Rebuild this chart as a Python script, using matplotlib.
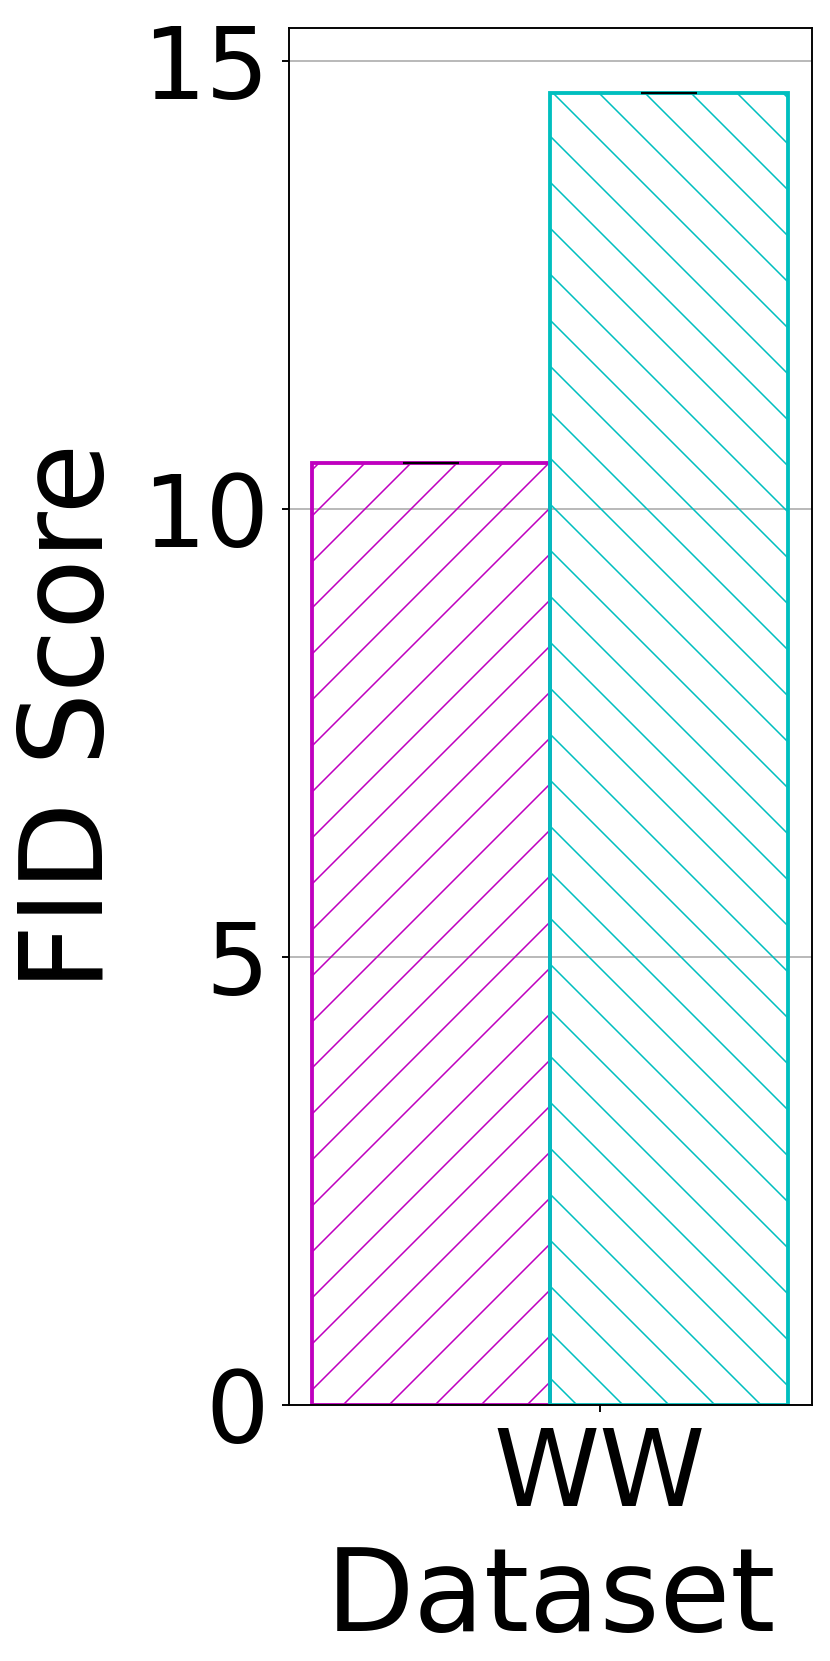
import matplotlib
matplotlib.use("Agg")
import matplotlib.pyplot as plt
import numpy as np

# ---- data ----
categories = ["WW"]
series_names = ["method_a", "method_b"]
series_values = [[10.52], [14.64]]
series_errors = [[0.0], [0.0]]
series_colors = ["m", "c"]
series_hatches = ["//", "\\\\"]
yticks = [0, 5, 10, 15]

DPI = 276
fig = plt.figure(figsize=(830 / DPI, 1661 / DPI), dpi=DPI)
plt.rcParams["hatch.linewidth"] = 0.4
ax = fig.add_axes([289 / 830, 1 - 1405 / 1661, (812 - 289) / 830, (1405 - 28) / 1661])

x = np.arange(len(categories))
width = 0.25
offsets = [-0.71 * width, 0.29 * width]
for i, (vals, errs, col, hat) in enumerate(zip(series_values, series_errors, series_colors, series_hatches)):
    ax.bar(x + offsets[i], vals, width, facecolor="none", edgecolor=col, hatch=hat,
           linewidth=1.0, zorder=2)
    ax.errorbar(x + offsets[i], vals, yerr=errs, fmt="none", ecolor="black",
                capsize=7.4, capthick=0.55, elinewidth=0.55, zorder=3)

ax.set_xlim(-0.3267, 0.2227)
ax.set_ylim(0, 15.37)
ax.set_yticks(yticks)
ax.set_xticks(x)
ax.set_xticklabels(categories)
ax.tick_params(axis="y", labelsize=26, length=1.75, width=0.5, pad=3.5)
ax.tick_params(axis="x", labelsize=28, length=1.75, width=0.5, pad=3.5)
ax.yaxis.grid(True, color="#b0b0b0", linewidth=0.45, zorder=0)
ax.set_axisbelow(True)
for s in ax.spines.values():
    s.set_linewidth(0.5)
ax.set_xlabel("Dataset", fontsize=30, labelpad=4)
ax.set_ylabel("FID Score", fontsize=30, labelpad=4)

fig.savefig("out.png", dpi=DPI)
